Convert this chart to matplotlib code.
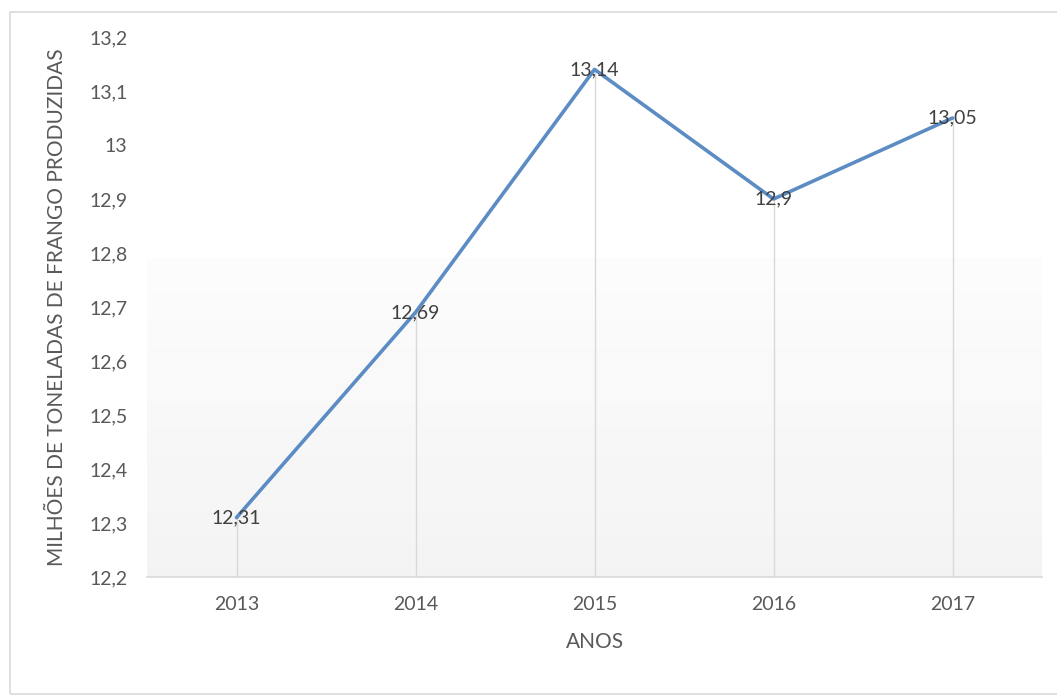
import matplotlib
matplotlib.use("Agg")
import matplotlib.pyplot as plt
import numpy as np
from matplotlib.patches import Rectangle

anos = ["2013", "2014", "2015", "2016", "2017"]
producao = [12.31, 12.69, 13.14, 12.90, 13.05]
rotulos = ["12,31", "12,69", "13,14", "12,9", "13,05"]
yticks = [12.2, 12.3, 12.4, 12.5, 12.6, 12.7, 12.8, 12.9, 13.0, 13.1, 13.2]
ytick_labels = ["12,2", "12,3", "12,4", "12,5", "12,6", "12,7", "12,8", "12,9", "13", "13,1", "13,2"]

plt.rcParams["font.family"] = ["Lato", "DejaVu Sans"]
txt = "#595959"

W, H = 1057, 697
fig = plt.figure(figsize=(W / 100, H / 100), dpi=100)
fig.patch.set_facecolor("white")

# chart frame
fig.add_artist(Rectangle((10 / W, 3 / H), 1.1, (H - 12 - 3) / H,
                         transform=fig.transFigure, fill=False,
                         edgecolor="#d9d9d9", linewidth=1.2))

ax = fig.add_axes([147 / W, 1 - 577 / H, (1042 - 147) / W, (577 - 37) / H])
x = np.arange(len(anos))
ax.set_xlim(-0.5, len(anos) - 0.5)

# soft gradient in the lower part of the plot area
grad = np.linspace(0.94, 0.985, 64).reshape(-1, 1)
ax.imshow(grad, extent=(-0.5, len(anos) - 0.5, 12.2, 12.79), origin="lower",
          cmap="gray", vmin=0, vmax=1, aspect="auto", zorder=0, alpha=0.75)
ax.set_ylim(12.2, 13.2)

# drop lines
ax.vlines(x, 12.2, producao, colors="#d9d9d9", linewidth=1.0, zorder=1)

ax.plot(x, producao, color="#5b8cc4", linewidth=2.6, solid_capstyle="round", zorder=3)

for xi, v, r in zip(x, producao, rotulos):
    ax.text(xi, v, r, ha="center", va="center", fontsize=14, color="#404040", zorder=4)

for s in ["top", "right", "left"]:
    ax.spines[s].set_visible(False)
ax.spines["bottom"].set_color("#d9d9d9")
ax.spines["bottom"].set_linewidth(1.2)

ax.set_xticks(x)
ax.set_xticklabels(anos)
ax.set_yticks(yticks)
ax.set_yticklabels(ytick_labels)
ax.tick_params(axis="both", length=0, labelsize=14, labelcolor=txt)
ax.tick_params(axis="x", pad=14)
ax.tick_params(axis="y", pad=14)

ax.set_xlabel("ANOS", fontsize=15, color=txt, labelpad=13)
ax.set_ylabel("MILHÕES DE TONELADAS DE FRANGO PRODUZIDAS", fontsize=15, color=txt, labelpad=16)

fig.savefig("out.png", dpi=100, facecolor="white")
